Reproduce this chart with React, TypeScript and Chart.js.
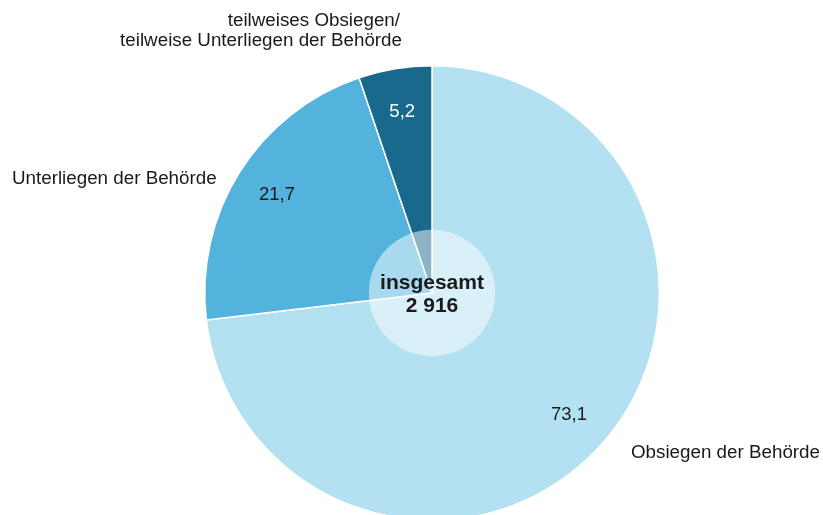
import React, { useEffect, useRef } from "react";
import { Chart, registerables } from "chart.js";

Chart.register(...registerables);

const categories = [
  "Obsiegen der Behörde",
  "Unterliegen der Behörde",
  "teilweises Obsiegen/\nteilweise Unterliegen der Behörde",
];
const shares = [73.1, 21.7, 5.2];
const valueLabels = ["73,1", "21,7", "5,2"];
const colors = ["#b3e1f2", "#53b3dc", "#19698d"];
const valueColors = ["#1a1a1a", "#1a1a1a", "#ffffff"];
const centerLines = ["insgesamt", "2 916"];

const FONT = "'Liberation Sans', Arial, Helvetica, sans-serif";

const labelPlugin = {
  id: "customLabels",
  afterDatasetsDraw(chart: any) {
    const ctx = chart.ctx as CanvasRenderingContext2D;
    const meta = chart.getDatasetMeta(0);
    const arcs = meta.data as any[];
    if (!arcs.length) return;
    const cx = arcs[0].x;
    const cy = arcs[0].y;
    const R = arcs[0].outerRadius;

    // translucent center disc
    ctx.save();
    ctx.beginPath();
    ctx.arc(cx, cy, R * 0.278, 0, Math.PI * 2);
    ctx.fillStyle = "rgba(255,255,255,0.5)";
    ctx.fill();
    ctx.restore();

    // value labels
    ctx.save();
    ctx.font = `18.5px ${FONT}`;
    ctx.textAlign = "center";
    ctx.textBaseline = "middle";
    arcs.forEach((arc: any, i: number) => {
      const mid = (arc.startAngle + arc.endAngle) / 2;
      const r = R * 0.806;
      ctx.fillStyle = valueColors[i];
      ctx.fillText(valueLabels[i], cx + Math.cos(mid) * r, cy + Math.sin(mid) * r);
    });
    ctx.restore();

    // center text
    ctx.save();
    ctx.font = `bold 21px ${FONT}`;
    ctx.fillStyle = "#1a1a1a";
    ctx.textAlign = "center";
    ctx.textBaseline = "alphabetic";
    ctx.fillText(centerLines[0], cx, cy - 4);
    ctx.fillText(centerLines[1], cx, cy + 19);
    ctx.restore();

    // category labels
    ctx.save();
    ctx.font = `18.8px ${FONT}`;
    ctx.fillStyle = "#1a1a1a";
    ctx.textBaseline = "middle";
    // Obsiegen der Behörde (bottom right)
    ctx.textAlign = "left";
    ctx.fillText(categories[0], cx + 199, cy + 160);
    // Unterliegen der Behörde (left)
    ctx.fillText(categories[1], cx - 420, cy - 114);
    // top label
    ctx.textAlign = "right";
    const lines = categories[2].split("\n");
    ctx.fillText(lines[0], cx - 32, cy - 272);
    ctx.fillText(lines[1], cx - 30, cy - 252);
    ctx.restore();
  },
};

export default function App() {
  const ref = useRef<HTMLCanvasElement>(null);
  useEffect(() => {
    document.body.style.margin = "0";
    document.body.style.overflow = "hidden";
    const chart = new Chart(ref.current!, {
      type: "pie",
      data: {
        labels: categories,
        datasets: [
          {
            data: shares,
            backgroundColor: colors,
            borderColor: "#ffffff",
            borderWidth: 1.5,
          },
        ],
      },
      options: {
        responsive: false,
        animation: false,
        layout: { padding: { left: 204, right: 163, top: 65, bottom: 9 } },
        plugins: {
          legend: { display: false },
          tooltip: { enabled: false },
        },
      },
      plugins: [labelPlugin],
    });
    return () => chart.destroy();
  }, []);
  return (
    <div
      style={{
        position: "fixed",
        left: 0,
        top: 0,
        width: 823,
        height: 515,
        overflow: "hidden",
        background: "#ffffff",
      }}
    >
      <canvas ref={ref} width={823} height={530} style={{ width: 823, height: 530 }} />
    </div>
  );
}
